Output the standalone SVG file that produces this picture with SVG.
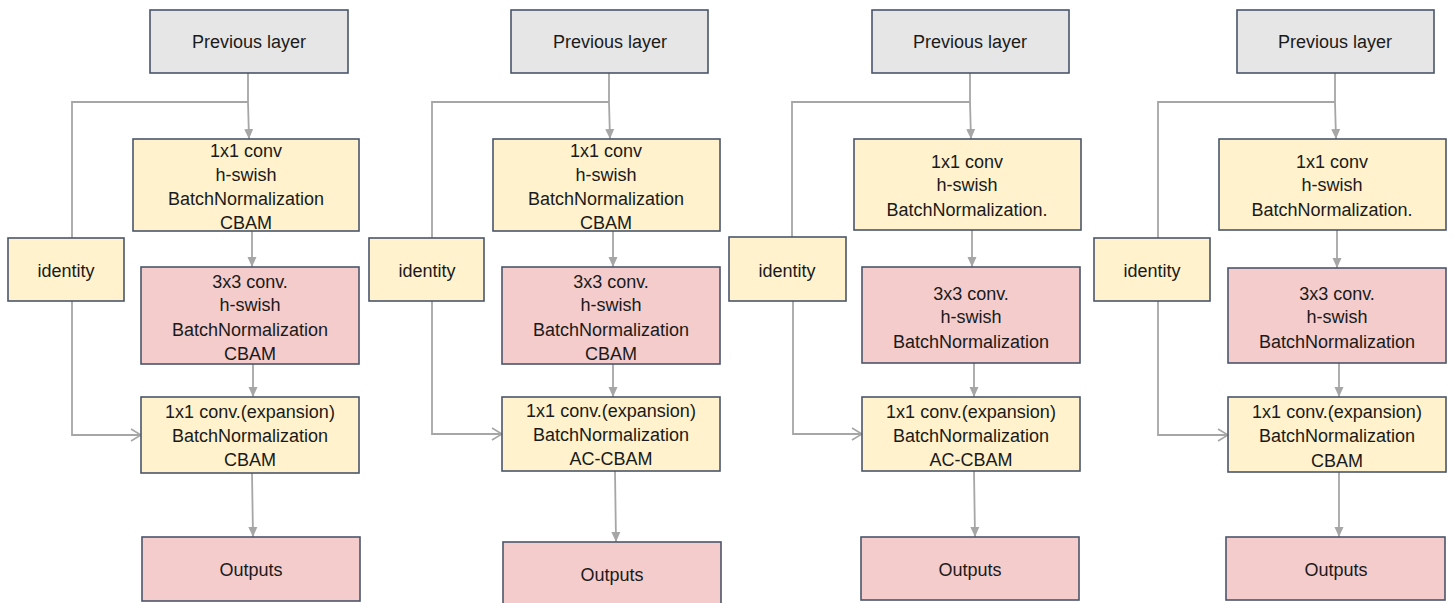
<svg xmlns="http://www.w3.org/2000/svg" width="1453" height="603" viewBox="0 0 1453 603">
<style>
.box{stroke:#4a566c;stroke-width:1.6}
.g{fill:#e6e6e6}
.y{fill:#fff2cc}
.p{fill:#f4cccc}
text{font-family:"Liberation Sans",Arial,sans-serif;font-size:18px;fill:#1a1a1a;text-anchor:middle}
.c{fill:none;stroke:#a6a6a6;stroke-width:1.8}
.a{marker-end:url(#tri)}
.o{marker-end:url(#chev)}
</style>
<defs>
<marker id="tri" markerUnits="userSpaceOnUse" markerWidth="10" markerHeight="10" refX="10" refY="5" orient="auto" viewBox="0 0 10 10">
<path d="M0,0.5 L10,5 L0,9.5 z" fill="#a6a6a6"/>
</marker>
<marker id="chev" markerUnits="userSpaceOnUse" markerWidth="12" markerHeight="14" refX="11" refY="7" orient="auto" viewBox="0 0 12 14">
<path d="M1,1 L11,7 L1,13" fill="none" stroke="#a6a6a6" stroke-width="1.6"/>
</marker>
</defs>

<g id="connectors">
<!-- column 1 -->
<path class="c a" d="M248,73 V102 M248,102 L249,139"/>
<path class="c" d="M248,102 H72 V238"/>
<path class="c a" d="M252,231 V267"/>
<path class="c a" d="M253,364 V397"/>
<path class="c o" d="M72,301 V435 H141"/>
<path class="c a" d="M252,473 L253,537"/>
<!-- column 2 -->
<path class="c a" d="M609,73 V102 M609,102 L610,139"/>
<path class="c" d="M609,102 H432 V238"/>
<path class="c a" d="M613,231 V267"/>
<path class="c a" d="M613,364 V397"/>
<path class="c o" d="M432,301 V434 H502"/>
<path class="c a" d="M615,471 L616,542"/>
<!-- column 3 -->
<path class="c a" d="M970,73 V102 M970,102 L971,139"/>
<path class="c" d="M970,102 H792 V237"/>
<path class="c a" d="M972,230 V267"/>
<path class="c a" d="M974,363 V397"/>
<path class="c o" d="M793,301 V434 H862"/>
<path class="c a" d="M974,471 L975,537"/>
<!-- column 4 -->
<path class="c a" d="M1335,73 V102 M1335,102 L1336,139"/>
<path class="c" d="M1335,102 H1158 V238"/>
<path class="c a" d="M1337,230 V268"/>
<path class="c a" d="M1339,363 V397"/>
<path class="c o" d="M1158,301 V435 H1228"/>
<path class="c a" d="M1339,472 V537"/>
</g>

<!-- column 1 -->
<g id="prev1"><rect class="box g" x="150" y="10" width="198" height="63"/><text x="249" y="48">Previous layer</text></g>
<g id="conv1a"><rect class="box y" x="133" y="139" width="226" height="92"/>
<text x="246" y="156.5">1x1 conv</text><text x="246" y="180.5">h-swish</text><text x="246" y="205">BatchNormalization</text><text x="246" y="229">CBAM</text></g>
<g id="id1"><rect class="box y" x="8" y="238" width="116" height="63"/><text x="66" y="277">identity</text></g>
<g id="conv1b"><rect class="box p" x="141" y="267" width="218" height="97"/>
<text x="250" y="287.5">3x3 conv.</text><text x="250" y="311">h-swish</text><text x="250" y="336">BatchNormalization</text><text x="250" y="359.5">CBAM</text></g>
<g id="exp1"><rect class="box y" x="141" y="397" width="218" height="76"/>
<text x="250" y="418">1x1 conv.(expansion)</text><text x="250" y="442">BatchNormalization</text><text x="250" y="466">CBAM</text></g>
<g id="out1"><rect class="box p" x="142" y="537" width="218" height="64"/><text x="251" y="576">Outputs</text></g>

<!-- column 2 -->
<g id="prev2"><rect class="box g" x="511" y="10" width="197" height="63"/><text x="610" y="48">Previous layer</text></g>
<g id="conv2a"><rect class="box y" x="493" y="139" width="227" height="92"/>
<text x="606" y="156.5">1x1 conv</text><text x="606" y="180.5">h-swish</text><text x="606" y="205">BatchNormalization</text><text x="606" y="229">CBAM</text></g>
<g id="id2"><rect class="box y" x="369" y="238" width="115" height="63"/><text x="427" y="277">identity</text></g>
<g id="conv2b"><rect class="box p" x="502" y="267" width="218" height="97"/>
<text x="611" y="287.5">3x3 conv.</text><text x="611" y="311">h-swish</text><text x="611" y="336">BatchNormalization</text><text x="611" y="359.5">CBAM</text></g>
<g id="exp2"><rect class="box y" x="502" y="397" width="218" height="74"/>
<text x="611" y="416.5">1x1 conv.(expansion)</text><text x="611" y="440.5">BatchNormalization</text><text x="611" y="465">AC-CBAM</text></g>
<g id="out2"><rect class="box p" x="503" y="542" width="218" height="66"/><text x="612" y="580.5">Outputs</text></g>

<!-- column 3 -->
<g id="prev3"><rect class="box g" x="872" y="10" width="197" height="63"/><text x="970" y="48">Previous layer</text></g>
<g id="conv3a"><rect class="box y" x="854" y="139" width="227" height="91"/>
<text x="967" y="167.5">1x1 conv</text><text x="967" y="190.5">h-swish</text><text x="967" y="216">BatchNormalization.</text></g>
<g id="id3"><rect class="box y" x="729" y="237" width="117" height="64"/><text x="787" y="276.5">identity</text></g>
<g id="conv3b"><rect class="box p" x="862" y="267" width="218" height="96"/>
<text x="971" y="299.5">3x3 conv.</text><text x="971" y="322.5">h-swish</text><text x="971" y="348">BatchNormalization</text></g>
<g id="exp3"><rect class="box y" x="862" y="397" width="218" height="74"/>
<text x="971" y="417.5">1x1 conv.(expansion)</text><text x="971" y="441.5">BatchNormalization</text><text x="971" y="465.5">AC-CBAM</text></g>
<g id="out3"><rect class="box p" x="861" y="537" width="218" height="63"/><text x="970" y="575.5">Outputs</text></g>

<!-- column 4 -->
<g id="prev4"><rect class="box g" x="1237" y="10" width="197" height="63"/><text x="1335" y="48">Previous layer</text></g>
<g id="conv4a"><rect class="box y" x="1219" y="139" width="227" height="91"/>
<text x="1332" y="167.5">1x1 conv</text><text x="1332" y="190.5">h-swish</text><text x="1332" y="216">BatchNormalization.</text></g>
<g id="id4"><rect class="box y" x="1094" y="238" width="116" height="63"/><text x="1152" y="276.5">identity</text></g>
<g id="conv4b"><rect class="box p" x="1228" y="268" width="218" height="95"/>
<text x="1337" y="299.5">3x3 conv.</text><text x="1337" y="323">h-swish</text><text x="1337" y="348">BatchNormalization</text></g>
<g id="exp4"><rect class="box y" x="1228" y="397" width="218" height="75"/>
<text x="1337" y="417.5">1x1 conv.(expansion)</text><text x="1337" y="441.5">BatchNormalization</text><text x="1337" y="466.5">CBAM</text></g>
<g id="out4"><rect class="box p" x="1226" y="537" width="219" height="63"/><text x="1336" y="575.5">Outputs</text></g>
</svg>
